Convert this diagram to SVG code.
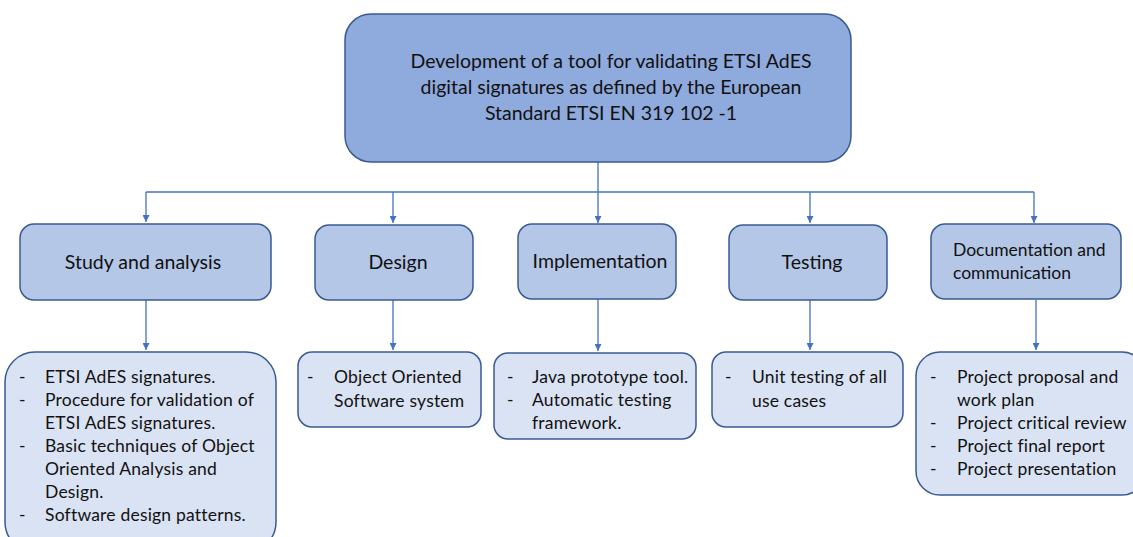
<svg xmlns="http://www.w3.org/2000/svg" width="1133" height="537" viewBox="0 0 1133 537">
  <defs>
    <marker id="arrow" viewBox="0 0 10 10" refX="10" refY="5" markerWidth="7" markerHeight="7" markerUnits="userSpaceOnUse" orient="auto">
      <path d="M0,0 L10,5 L0,10 z" fill="#4472c4"/>
    </marker>
    <style>
      .box { stroke: #3a5a94; stroke-width: 1.5; }
      .top { fill: #8faadc; }
      .phase { fill: #b4c7e7; }
      .detail { fill: #dae3f3; }
      text { font-family: Lato, "Open Sans", "Liberation Sans", sans-serif; fill: #111; }
      .title { font-size: 19.5px; text-anchor: middle; }
      .label { font-size: 19.5px; text-anchor: middle; }
      .small { font-size: 17.5px; }
      .item { font-size: 17.5px; letter-spacing: 0.2px; }
      .conn { stroke: #4472c4; stroke-width: 1.3; fill: none; }
    </style>
  </defs>

  <!-- connectors -->
  <g id="connectors">
    <line class="conn" x1="598" y1="162" x2="598" y2="192" stroke-width="1.8"/>
    <line class="conn" x1="146" y1="192" x2="1034" y2="192"/>
    <line class="conn" x1="146" y1="192" x2="146" y2="222" marker-end="url(#arrow)"/>
    <line class="conn" x1="393" y1="192" x2="393" y2="223" marker-end="url(#arrow)"/>
    <line class="conn" x1="598" y1="192" x2="598" y2="223" marker-end="url(#arrow)"/>
    <line class="conn" x1="810" y1="192" x2="810" y2="223" marker-end="url(#arrow)"/>
    <line class="conn" x1="1034" y1="192" x2="1034" y2="223" marker-end="url(#arrow)"/>
    <line class="conn" x1="146" y1="300" x2="146" y2="350" marker-end="url(#arrow)"/>
    <line class="conn" x1="393" y1="300" x2="393" y2="350" marker-end="url(#arrow)"/>
    <line class="conn" x1="598" y1="299" x2="598" y2="351" marker-end="url(#arrow)"/>
    <line class="conn" x1="810" y1="300" x2="810" y2="350" marker-end="url(#arrow)"/>
    <line class="conn" x1="1036" y1="300" x2="1036" y2="350" marker-end="url(#arrow)"/>
  </g>

  <!-- root node -->
  <g id="root">
    <rect class="box top" x="345" y="14" width="506" height="148" rx="26"/>
    <text class="title" x="611" y="68">Development of a tool for validating ETSI AdES</text>
    <text class="title" x="611" y="94">digital signatures as defined by the European</text>
    <text class="title" x="611" y="120">Standard ETSI EN 319 102 -1</text>
  </g>

  <!-- phase nodes -->
  <g id="study">
    <rect class="box phase" x="20" y="224" width="251" height="76" rx="14"/>
    <text class="label" x="143" y="269">Study and analysis</text>
  </g>
  <g id="design">
    <rect class="box phase" x="315" y="225" width="158" height="75" rx="14"/>
    <text class="label" x="398" y="269">Design</text>
  </g>
  <g id="implementation">
    <rect class="box phase" x="518" y="224" width="158" height="75" rx="14"/>
    <text class="label" x="600" y="268">Implementation</text>
  </g>
  <g id="testing">
    <rect class="box phase" x="729" y="225" width="158" height="75" rx="14"/>
    <text class="label" x="812" y="269">Testing</text>
  </g>
  <g id="documentation">
    <rect class="box phase" x="931" y="224" width="190" height="75" rx="14"/>
    <text class="small" x="953" y="256">Documentation and</text>
    <text class="small" x="953" y="279">communication</text>
  </g>

  <!-- detail nodes -->
  <g id="study-details">
    <rect class="box detail" x="5" y="352" width="271" height="200" rx="30"/>
    <g class="item">
      <text x="19" y="383">-</text><text x="45" y="383">ETSI AdES signatures.</text>
      <text x="19" y="406">-</text><text x="45" y="406">Procedure for validation of</text>
      <text x="45" y="429">ETSI AdES signatures.</text>
      <text x="19" y="452">-</text><text x="45" y="452">Basic techniques of Object</text>
      <text x="45" y="475">Oriented Analysis and</text>
      <text x="45" y="498">Design.</text>
      <text x="19" y="521">-</text><text x="45" y="521">Software design patterns.</text>
    </g>
  </g>
  <g id="design-details">
    <rect class="box detail" x="298" y="352" width="183" height="75" rx="14"/>
    <g class="item">
      <text x="307" y="383">-</text><text x="334" y="383">Object Oriented</text>
      <text x="334" y="407">Software system</text>
    </g>
  </g>
  <g id="implementation-details">
    <rect class="box detail" x="494" y="353" width="202" height="86" rx="14"/>
    <g class="item">
      <text x="507" y="383">-</text><text x="532" y="383">Java prototype tool.</text>
      <text x="507" y="406">-</text><text x="532" y="406">Automatic testing</text>
      <text x="532" y="429">framework.</text>
    </g>
  </g>
  <g id="testing-details">
    <rect class="box detail" x="712" y="352" width="191" height="75" rx="14"/>
    <g class="item">
      <text x="725" y="383">-</text><text x="752" y="383">Unit testing of all</text>
      <text x="752" y="407">use cases</text>
    </g>
  </g>
  <g id="documentation-details">
    <rect class="box detail" x="916" y="352" width="230" height="143" rx="24"/>
    <g class="item">
      <text x="930" y="383">-</text><text x="957" y="383">Project proposal and</text>
      <text x="957" y="406">work plan</text>
      <text x="930" y="429">-</text><text x="957" y="429">Project critical review</text>
      <text x="930" y="452">-</text><text x="957" y="452">Project final report</text>
      <text x="930" y="475">-</text><text x="957" y="475">Project presentation</text>
    </g>
  </g>
</svg>
